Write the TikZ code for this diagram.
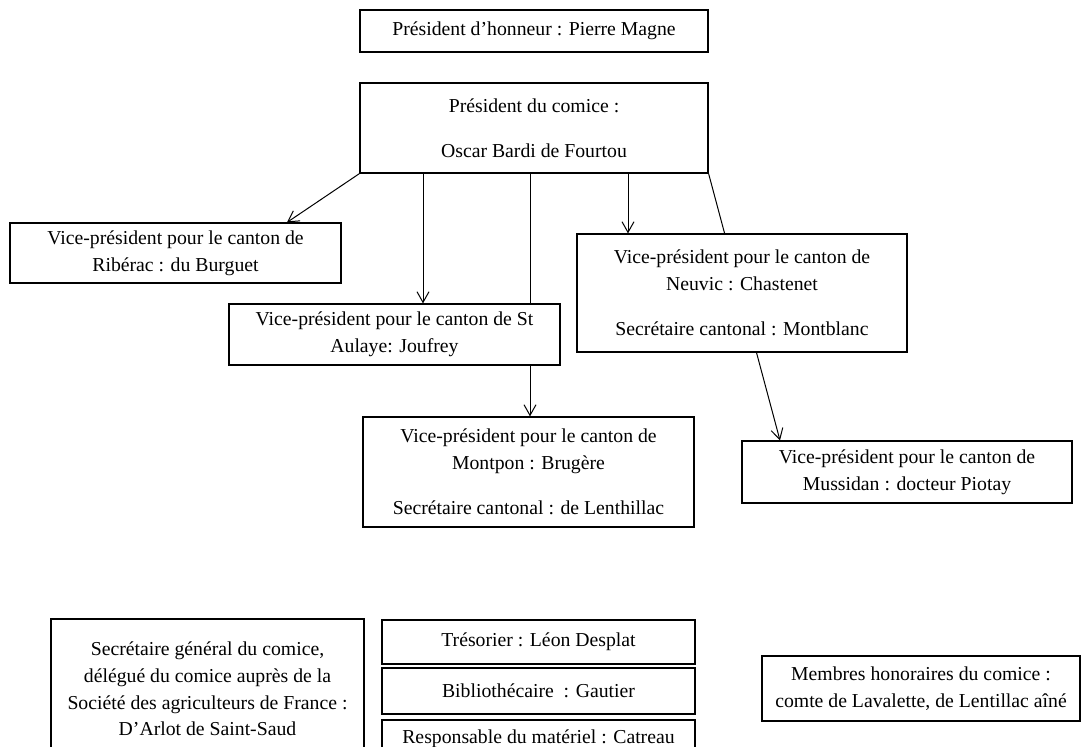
\documentclass[tikz,border=0pt]{standalone}
\usepackage{fontspec}
\setmainfont{Liberation Serif}
\usetikzlibrary{arrows.meta,calc,backgrounds}
\def\u{0.75pt}
\begin{document}
\begin{tikzpicture}[x=0.75pt,y=-0.75pt,
  box/.style={draw,line width=0.9pt,fill=white,inner sep=0pt,align=center,
    font=\fontsize{14.8}{20}\selectfont},
  arr/.style={line width=0.75pt,-{Straight Barb[length=8pt,width=9pt]}}]
\useasboundingbox (0,0) rectangle (1083,747);
\clip (0,0) rectangle (1083,747);
\node[box,minimum width=348*\u,minimum height=42*\u] (hon) at (534,31)
  {Président d’honneur : Pierre Magne};
\node[box,minimum width=348*\u,minimum height=90*\u] (pres) at (534,128)
  {Président du comice :\\[13.75pt]Oscar Bardi de Fourtou};
\node[box,minimum width=331*\u,minimum height=60*\u] (rib) at (175.5,253)
  {Vice-président pour le canton de\\Ribérac : du Burguet};
\node[box,minimum width=331*\u,minimum height=61*\u] (aul) at (394.5,334.5)
  {Vice-président pour le canton de St\\Aulaye: Joufrey};
\node[box,minimum width=330*\u,minimum height=118*\u] (neu) at (742,293)
  {Vice-président pour le canton de\\Neuvic : Chastenet\\[13.75pt]Secrétaire cantonal : Montblanc};
\node[box,minimum width=331*\u,minimum height=110*\u] (mon) at (528.5,472)
  {Vice-président pour le canton de\\Montpon : Brugère\\[13.75pt]Secrétaire cantonal : de Lenthillac};
\node[box,minimum width=330*\u,minimum height=62*\u] (mus) at (907,472)
  {Vice-président pour le canton de\\Mussidan : docteur Piotay};
\node[box,minimum width=313*\u,minimum height=140*\u] (sec) at (207.5,689)
  {Secrétaire général du comice,\\délégué du comice auprès de la\\Société des agriculteurs de France :\\D’Arlot de Saint-Saud};
\node[box,minimum width=313*\u,minimum height=44*\u] (tre) at (538.5,642)
  {Trésorier : Léon Desplat};
\node[box,minimum width=313*\u,minimum height=46*\u] (bib) at (538.5,691)
  {Bibliothécaire~ : Gautier};
\node[box,minimum width=313*\u,minimum height=46*\u] (res) at (538.5,743)
  {\raisebox{0pt}[0pt][0pt]{Responsable du matériel : Catreau}};
\node[box,minimum width=318*\u,minimum height=65*\u] (mem) at (921,688.5)
  {Membres honoraires du comice :\\comte de Lavalette, de Lentillac aîné};
\begin{scope}[on background layer]
  \coordinate (a2) at ($(pres.south)+(-111,0)$);
  \coordinate (a3) at ($(pres.south)+(-4,0)$);
  \coordinate (a4) at ($(pres.south)+(94,0)$);
  \draw[arr] (pres.south west) -- ($(rib.north)+(111.5,0)$);
  \draw[arr] (a2) -- (a2 |- aul.north);
  \draw[arr] (a3) -- (a3 |- mon.north);
  \draw[arr] (a4) -- (a4 |- neu.north);
  \draw[arr] (pres.south east) -- ($(mus.north)+(-127,0)$);
\end{scope}
\end{tikzpicture}
\end{document}
